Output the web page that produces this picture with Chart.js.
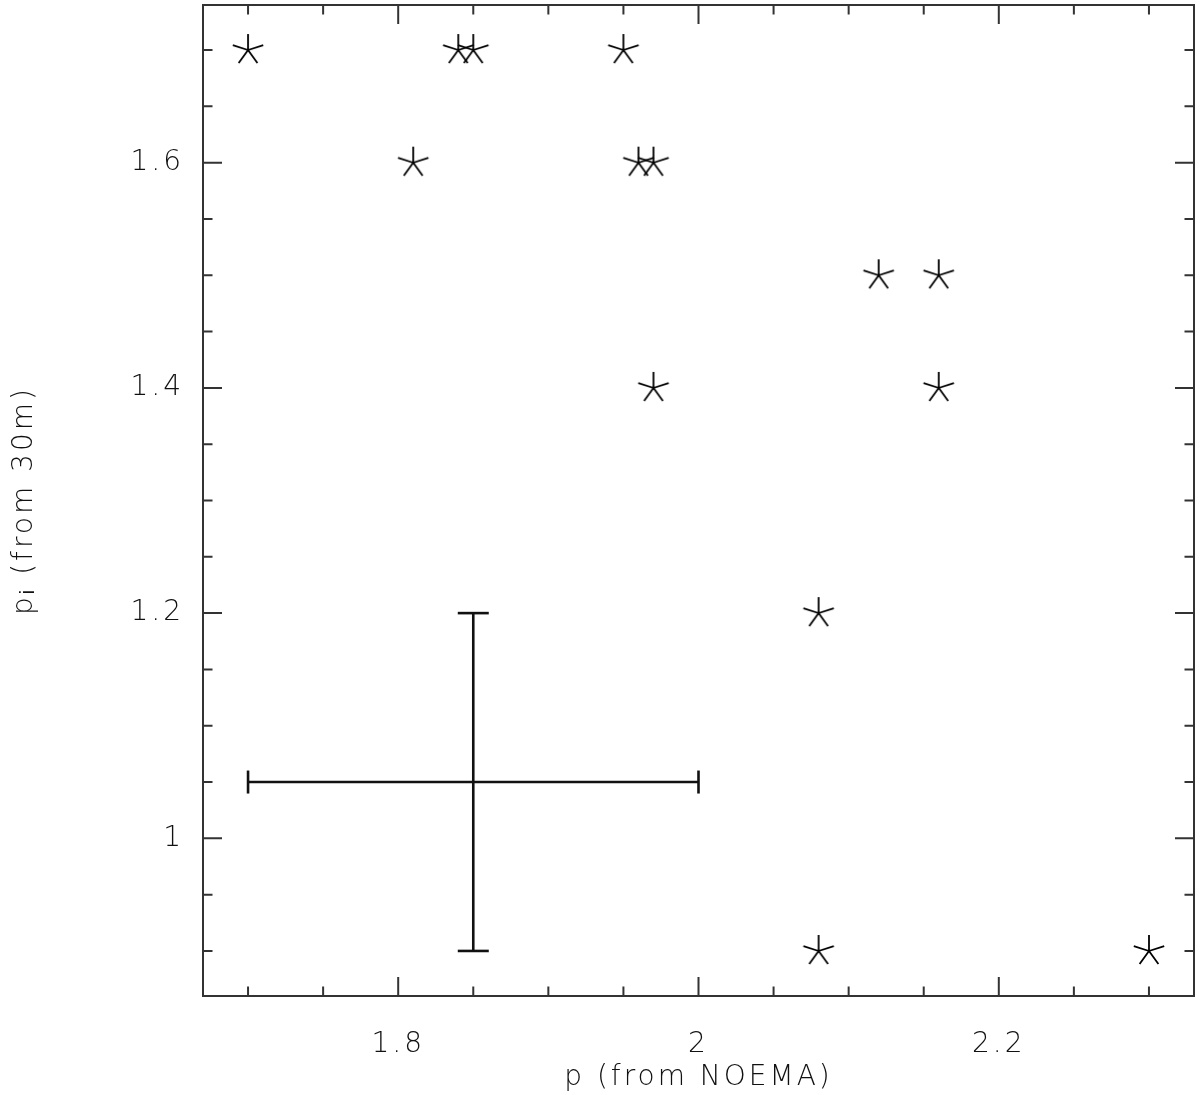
<!DOCTYPE html>
<html>
<head>
<meta charset="utf-8">
<script src="https://cdn.jsdelivr.net/npm/chart.js@4/dist/chart.umd.min.js"></script>
<style>
  html, body { margin: 0; padding: 0; background: #ffffff; }
  #wrap { width: 1200px; height: 1095px; }
</style>
</head>
<body>
<div id="wrap"><canvas id="c" width="1200" height="1095"></canvas></div>
<script>
// ---- data ----
const pNoema = [1.70, 1.84, 1.85, 1.95, 1.81, 1.96, 1.97, 2.12, 2.16, 1.97, 2.16, 2.08, 2.08, 2.30];
const pi30m  = [1.70, 1.70, 1.70, 1.70, 1.60, 1.60, 1.60, 1.50, 1.50, 1.40, 1.40, 1.20, 0.90, 0.90];

// representative error bar (centre and extent)
const errCenterX = 1.85, errCenterY = 1.05;
const errXLow = 1.70, errXHigh = 2.00;
const errYLow = 0.90, errYHigh = 1.20;

// axes
const xMin = 1.67, xMax = 2.33;
const yMin = 0.86, yMax = 1.74;
const xMajorTicks = [1.8, 2.0, 2.2];
const xMinorTicks = [1.70, 1.75, 1.85, 1.90, 1.95, 2.05, 2.10, 2.15, 2.25, 2.30];
const yMajorTicks = [1.0, 1.2, 1.4, 1.6];
const yMinorTicks = [0.90, 0.95, 1.05, 1.10, 1.15, 1.25, 1.30, 1.35, 1.45, 1.50, 1.55, 1.65, 1.70];
const xTitle = "p (from NOEMA)";
const yTitle = "p\u1D62 (from 30m)";

// ---- 5-armed asterisk marker ----
function makeStar(r, lw, color) {
  const s = Math.ceil(2 * r + 4);
  const cv = document.createElement('canvas');
  cv.width = s; cv.height = s;
  const g = cv.getContext('2d');
  g.strokeStyle = color; g.lineWidth = lw; g.lineCap = 'butt';
  const c = s / 2;
  g.beginPath();
  for (let k = 0; k < 5; k++) {
    const a = -Math.PI / 2 + k * 2 * Math.PI / 5;
    g.moveTo(c, c);
    g.lineTo(c + r * Math.cos(a), c + r * Math.sin(a));
  }
  g.stroke();
  return cv;
}
const starImg = makeStar(16, 1.8, '#000000');

const fontFam = "'DejaVu Sans', sans-serif";
const fontW = 200;
const labelColor = '#111111';

const pts = pNoema.map((x, i) => ({ x: x, y: pi30m[i] }));

// slightly spaced lettering like the reference's plotting font
const spacingPlugin = {
  id: 'spacing',
  beforeInit(chart) { chart.ctx.letterSpacing = '3px'; },
  beforeLayout(chart) { chart.ctx.letterSpacing = '3px'; },
  beforeDraw(chart) { chart.ctx.letterSpacing = '3px'; }
};

// frame + inward ticks on all four sides
const framePlugin = {
  id: 'frame',
  afterDatasetsDraw(chart) {
    const { ctx, chartArea: a, scales } = chart;
    const xs = scales.x, ys = scales.y;
    ctx.save();
    ctx.strokeStyle = '#333333';
    ctx.lineWidth = 2;
    ctx.strokeRect(a.left, a.top, a.right - a.left, a.bottom - a.top);
    const major = 19, minor = 9.5;
    ctx.beginPath();
    const xt = (v, len) => {
      const px = xs.getPixelForValue(v);
      ctx.moveTo(px, a.bottom); ctx.lineTo(px, a.bottom - len);
      ctx.moveTo(px, a.top); ctx.lineTo(px, a.top + len);
    };
    const yt = (v, len) => {
      const py = ys.getPixelForValue(v);
      ctx.moveTo(a.left, py); ctx.lineTo(a.left + len, py);
      ctx.moveTo(a.right, py); ctx.lineTo(a.right - len, py);
    };
    xMajorTicks.forEach(v => xt(v, major));
    xMinorTicks.forEach(v => xt(v, minor));
    yMajorTicks.forEach(v => yt(v, major));
    yMinorTicks.forEach(v => yt(v, minor));
    ctx.stroke();
    ctx.restore();
  }
};

new Chart(document.getElementById('c'), {
  type: 'scatter',
  data: {
    datasets: [
      {
        label: 'sources',
        data: pts,
        pointStyle: starImg,
        pointRadius: 16,
        showLine: false
      },
      {
        label: 'err x',
        data: [{ x: errXLow, y: errCenterY }, { x: errXHigh, y: errCenterY }],
        showLine: true,
        borderColor: '#111111',
        borderWidth: 2.6,
        pointStyle: 'line',
        rotation: 90,
        pointRadius: 11.5,
        pointBorderWidth: 2.6,
        pointBorderColor: '#111111'
      },
      {
        label: 'err y',
        data: [{ x: errCenterX, y: errYLow }, { x: errCenterX, y: errYHigh }],
        showLine: true,
        borderColor: '#111111',
        borderWidth: 2.6,
        pointStyle: 'line',
        rotation: 0,
        pointRadius: 15.5,
        pointBorderWidth: 2.6,
        pointBorderColor: '#111111'
      }
    ]
  },
  options: {
    responsive: false,
    animation: false,
    layout: { autoPadding: false, padding: { left: 0, right: 6, top: 5, bottom: 0 } },
    plugins: { legend: { display: false }, tooltip: { enabled: false } },
    scales: {
      x: {
        type: 'linear',
        min: xMin, max: xMax,
        grid: { display: false, drawTicks: false },
        border: { display: false },
        afterBuildTicks: s => { s.ticks = xMajorTicks.map(v => ({ value: v })); },
        afterFit: s => { s.height = 99; s.paddingLeft = 0; s.paddingRight = 0; },
        ticks: {
          padding: 32,
          maxRotation: 0,
          autoSkip: false,
          color: labelColor,
          font: { family: fontFam, size: 28, weight: fontW },
          callback: v => String(+v.toFixed(2))
        },
        title: {
          display: true, text: xTitle, color: labelColor,
          font: { family: fontFam, size: 28, weight: fontW },
          padding: { top: 0, bottom: 0 }
        }
      },
      y: {
        type: 'linear',
        min: yMin, max: yMax,
        grid: { display: false, drawTicks: false },
        border: { display: false },
        afterBuildTicks: s => { s.ticks = yMajorTicks.map(v => ({ value: v })); },
        afterFit: s => { s.width = 203; s.paddingTop = 0; s.paddingBottom = 0; },
        ticks: {
          padding: 19,
          autoSkip: false,
          color: labelColor,
          font: { family: fontFam, size: 28, weight: fontW },
          callback: v => String(+v.toFixed(2))
        },
        title: {
          display: true, text: yTitle, color: labelColor,
          font: { family: fontFam, size: 28, weight: fontW },
          padding: { top: 8, bottom: 0 }
        }
      }
    }
  },
  plugins: [spacingPlugin, framePlugin]
});
</script>
</body>
</html>
